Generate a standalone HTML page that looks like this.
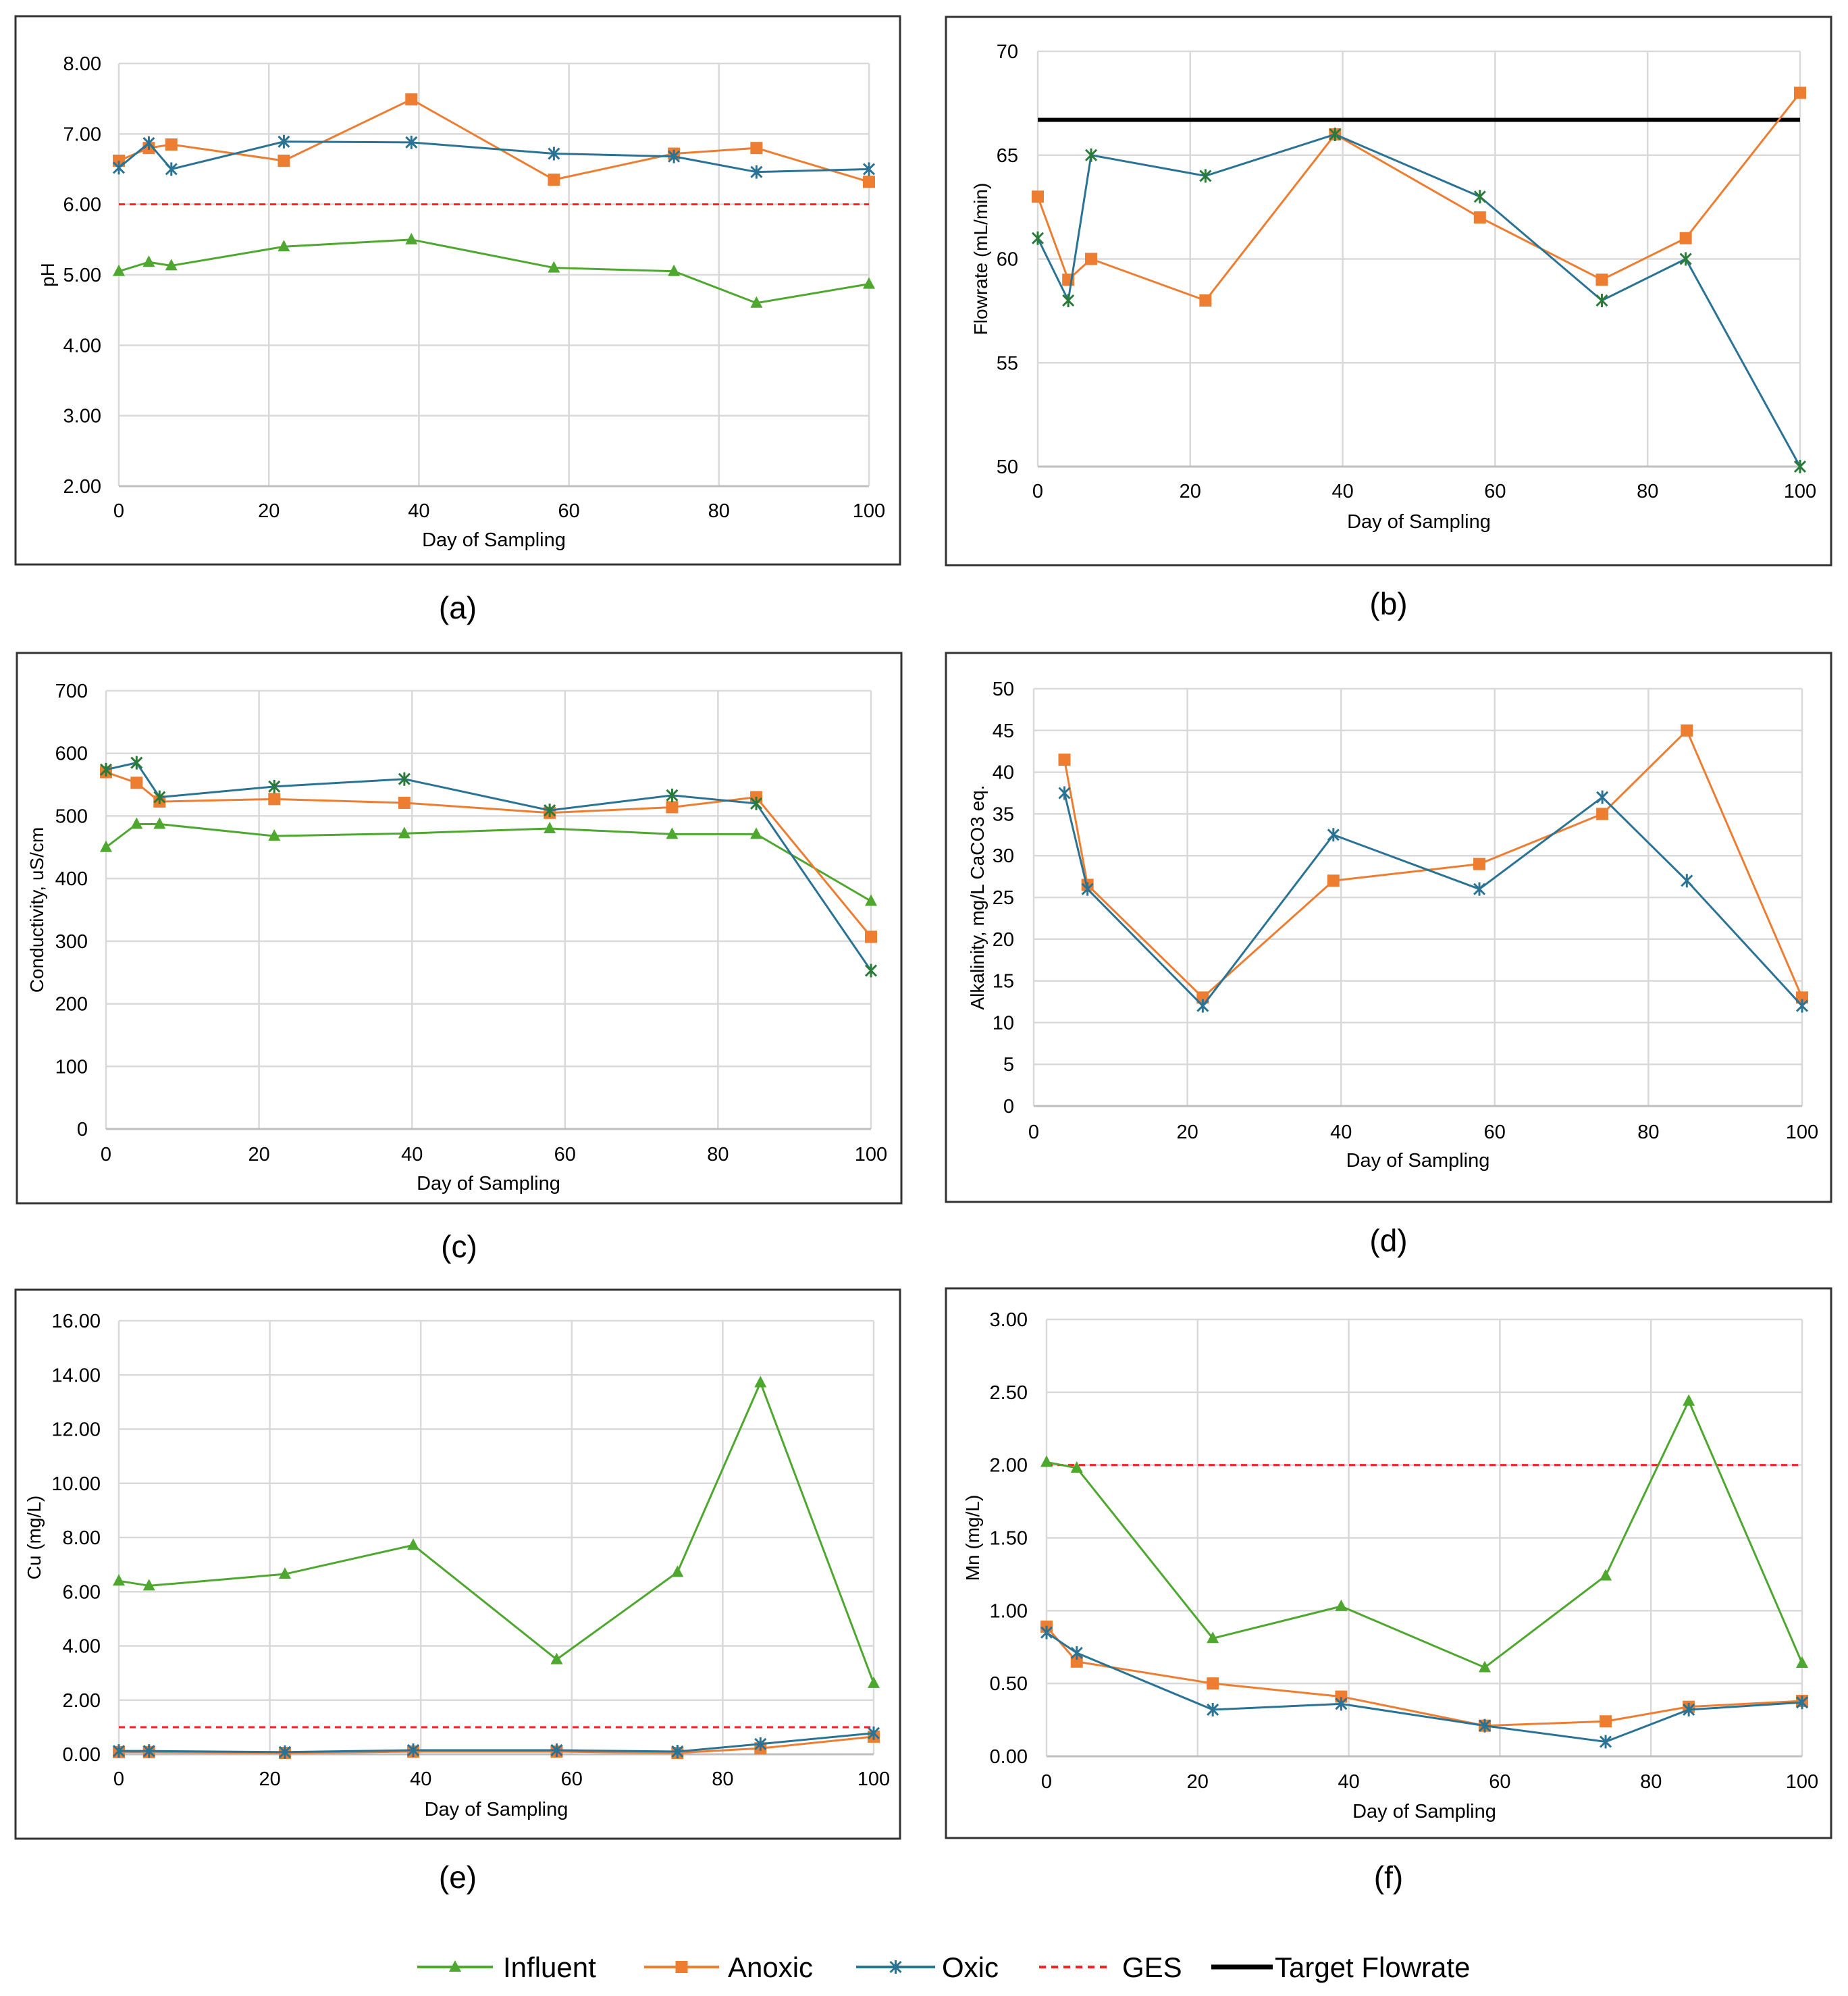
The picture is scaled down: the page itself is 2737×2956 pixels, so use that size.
<!DOCTYPE html>
<html><head><meta charset="utf-8"><style>
html,body{margin:0;padding:0;background:#fff}
svg{display:block}
text{font-family:"Liberation Sans",sans-serif;fill:#000}
</style></head><body>
<svg id="fig" width="2737" height="2956" viewBox="0 0 2737 2956" xmlns="http://www.w3.org/2000/svg"></svg>
<script>
// ---- data ----
const daysA = [0,4,7,22,39,58,74,85,100];
const phInfluent = [5.05,5.18,5.13,5.40,5.50,5.10,5.05,4.60,4.87];
const phAnoxic = [6.62,6.80,6.85,6.62,7.49,6.35,6.72,6.80,6.32];
const phOxic = [6.52,6.87,6.50,6.89,6.88,6.72,6.68,6.46,6.50];
const phGES = 6;
const phTicks = [2,3,4,5,6,7,8];

const flowAnoxic = [63,59,60,58,66,62,59,61,68];
const flowOxic = [61,58,65,64,66,63,58,60,50];
const flowTarget = 66.7;
const flowTicks = [50,55,60,65,70];

const condInfluent = [450,487,487,468,472,480,471,471,364];
const condAnoxic = [570,553,523,527,521,505,514,530,307];
const condOxic = [574,585,530,547,559,509,533,520,253];
const condTicks = [0,100,200,300,400,500,600,700];

const daysD = [4,7,22,39,58,74,85,100];
const alkAnoxic = [41.5,26.5,13,27,29,35,45,13];
const alkOxic = [37.5,26,12,32.5,26,37,27,12];
const alkTicks = [0,5,10,15,20,25,30,35,40,45,50];

const daysE = [0,4,22,39,58,74,85,100];
const cuInfluent = [6.4,6.22,6.65,7.72,3.5,6.72,13.72,2.62];
const cuAnoxic = [0.08,0.08,0.05,0.1,0.1,0.05,0.22,0.65];
const cuOxic = [0.12,0.12,0.08,0.15,0.15,0.1,0.38,0.78];
const cuGES = 1;
const cuTicks = [0,2,4,6,8,10,12,14,16];

const mnInfluent = [2.02,1.98,0.81,1.03,0.61,1.24,2.44,0.64];
const mnAnoxic = [0.89,0.65,0.50,0.41,0.21,0.24,0.34,0.38];
const mnOxic = [0.85,0.71,0.32,0.36,0.21,0.10,0.32,0.37];
const mnGES = 2;
const mnTicks = [0,0.5,1,1.5,2,2.5,3];

const xTicks = [0,20,40,60,80,100];

// ---- drawing ----
const NS = "http://www.w3.org/2000/svg";
const svg = document.getElementById('fig');
const C = {inf:'#4ea72e', anx:'#ed7d31', oxi:'#2a7394', ges:'#ff2020', grid:'#d9d9d9'};
function el(tag, attrs, parent){
  const e = document.createElementNS(NS, tag);
  for (const k in attrs) e.setAttribute(k, attrs[k]);
  (parent||svg).appendChild(e);
  return e;
}
function txt(s, attrs, parent){ const t = el('text', attrs, parent); t.textContent = s; return t; }

function marker(g, kind, x, y, color, name){
  let m;
  if (kind==='tri'){
    m = el('path',{d:`M${x} ${y-10}L${x+9} ${y+7}L${x-9} ${y+7}Z`, fill:color}, g);
  } else if (kind==='sq'){
    m = el('rect',{x:x-9,y:y-9,width:18,height:18,fill:color}, g);
  } else {
    m = el('path',{d:`M${x-8} ${y-8}L${x+8} ${y+8}M${x+8} ${y-8}L${x-8} ${y+8}M${x} ${y-10}L${x} ${y+10}`, stroke:color,'stroke-width':3,fill:'none'}, g);
  }
  
  
}

function panel(P){
  const g = el('g',{});
  
  
  const xs = d => P.x0 + (d-0)/100*(P.x1-P.x0);
  const ys = v => P.yB + (v-P.ticks[0])/(P.ticks[P.ticks.length-1]-P.ticks[0])*(P.yT-P.yB);
  const box = el('rect',{x:P.bx0,y:P.by0,width:P.bx1-P.bx0,height:P.by1-P.by0,fill:'none',stroke:'#333','stroke-width':3}, g);
  
  
  P.ticks.forEach(t=>{
    const l = el('line',{x1:P.x0,x2:P.x1,y1:ys(t),y2:ys(t),stroke:C.grid,'stroke-width':2.5}, g);
    
    
    const tl = txt(P.fmt(t),{x:P.tlx,y:ys(t)+10,'text-anchor':'end','font-size':29}, g);
    
    
  });
  xTicks.forEach(t=>{
    const l = el('line',{x1:xs(t),x2:xs(t),y1:P.yT,y2:P.yB,stroke:C.grid,'stroke-width':2.5}, g);
    
    
    const tl = txt(String(t),{x:xs(t),y:P.xty,'text-anchor':'middle','font-size':29}, g);
    
    
  });
  const ax = el('line',{x1:P.x0,x2:P.x1,y1:P.yB,y2:P.yB,stroke:'#bfbfbf','stroke-width':3}, g);
  
  
  const xt = txt('Day of Sampling',{x:(P.x0+P.x1)/2,y:P.xtt,'text-anchor':'middle','font-size':29}, g);
  
  
  const yt = txt(P.ytitle,{x:0,y:0,'text-anchor':'middle','font-size':28,transform:`translate(${P.ytx},${(P.yT+P.yB)/2}) rotate(-90)`}, g);
  
  
  const cap = txt(P.cap,{x:(P.bx0+P.bx1)/2,y:P.capy+16,'text-anchor':'middle','font-size':46}, g);
  
  
  if (P.ges!==undefined){
    const l = el('line',{x1:P.x0,x2:P.x1,y1:ys(P.ges),y2:ys(P.ges),stroke:C.ges,'stroke-width':3,'stroke-dasharray':'9 7'}, g);
    
    
  }
  if (P.target!==undefined){
    const l = el('line',{x1:P.x0,x2:P.x1,y1:ys(P.target),y2:ys(P.target),stroke:'#000','stroke-width':6}, g);
    
    
  }
  P.series.forEach(s=>{
    const pts = s.vals.map((v,i)=>xs(P.days[i])+','+ys(v)).join(' ');
    const pl = el('polyline',{points:pts,fill:'none',stroke:s.color,'stroke-width':3}, g);
    
    
    s.vals.forEach((v,i)=>marker(g, s.kind, xs(P.days[i]), ys(v), s.mcolor||s.color, s.name+'-point'));
  });
}

const f2 = v => v.toFixed(2), f0 = v => String(v);

panel({name:'ph-chart',cap:'(a)',bx0:23,by0:24,bx1:1333,by1:836,x0:176,x1:1287,yT:94,yB:720,ticks:phTicks,fmt:f2,tlx:150,xty:766,xtt:809,ytx:80,capy:900,ytitle:'pH',days:daysA,ges:phGES,
  series:[{name:'influent',vals:phInfluent,color:C.inf,kind:'tri'},{name:'anoxic',vals:phAnoxic,color:C.anx,kind:'sq'},{name:'oxic',vals:phOxic,color:C.oxi,kind:'ast'}]});
panel({name:'flowrate-chart',cap:'(b)',bx0:1401,by0:25,bx1:2712,by1:837,x0:1537,x1:2666,yT:76,yB:691,ticks:flowTicks,fmt:f0,tlx:1508,xty:737,xtt:782,ytx:1462,capy:894,ytitle:'Flowrate (mL/min)',days:daysA,target:flowTarget,
  series:[{name:'anoxic',vals:flowAnoxic,color:C.anx,kind:'sq'},{name:'oxic',vals:flowOxic,color:C.oxi,mcolor:'#2a7a3a',kind:'ast'}]});
panel({name:'conductivity-chart',cap:'(c)',bx0:25,by0:967,bx1:1335,by1:1782,x0:157,x1:1290,yT:1023,yB:1672,ticks:condTicks,fmt:f0,tlx:130,xty:1719,xtt:1762,ytx:64,capy:1846,ytitle:'Conductivity, uS/cm',days:daysA,
  series:[{name:'influent',vals:condInfluent,color:C.inf,kind:'tri'},{name:'anoxic',vals:condAnoxic,color:C.anx,kind:'sq'},{name:'oxic',vals:condOxic,color:C.oxi,mcolor:'#2a7a3a',kind:'ast'}]});
panel({name:'alkalinity-chart',cap:'(d)',bx0:1401,by0:967,bx1:2712,by1:1780,x0:1531,x1:2669,yT:1020,yB:1638,ticks:alkTicks,fmt:f0,tlx:1502,xty:1686,xtt:1728,ytx:1457,capy:1837,ytitle:'Alkalinity, mg/L CaCO3 eq.',days:daysD,
  series:[{name:'anoxic',vals:alkAnoxic,color:C.anx,kind:'sq'},{name:'oxic',vals:alkOxic,color:C.oxi,kind:'ast'}]});
panel({name:'copper-chart',cap:'(e)',bx0:23,by0:1910,bx1:1333,by1:2723,x0:176,x1:1294,yT:1956,yB:2598,ticks:cuTicks,fmt:f2,tlx:149,xty:2644,xtt:2689,ytx:60,capy:2780,ytitle:'Cu (mg/L)',days:daysE,ges:cuGES,
  series:[{name:'influent',vals:cuInfluent,color:C.inf,kind:'tri'},{name:'anoxic',vals:cuAnoxic,color:C.anx,kind:'sq'},{name:'oxic',vals:cuOxic,color:C.oxi,kind:'ast'}]});
panel({name:'manganese-chart',cap:'(f)',bx0:1401,by0:1908,bx1:2712,by1:2722,x0:1550,x1:2669,yT:1954,yB:2601,ticks:mnTicks,fmt:f2,tlx:1522,xty:2648,xtt:2692,ytx:1450,capy:2780,ytitle:'Mn (mg/L)',days:daysE,ges:mnGES,
  series:[{name:'influent',vals:mnInfluent,color:C.inf,kind:'tri'},{name:'anoxic',vals:mnAnoxic,color:C.anx,kind:'sq'},{name:'oxic',vals:mnOxic,color:C.oxi,kind:'ast'}]});

// legend
const lg = el('g',{});


const LY = 2913;
const legendItems = [
  {label:'Influent',x1:618,x2:730,tx:745,color:C.inf,kind:'tri'},
  {label:'Anoxic',x1:954,x2:1065,tx:1078,color:C.anx,kind:'sq'},
  {label:'Oxic',x1:1268,x2:1385,tx:1395,color:C.oxi,kind:'ast'},
  {label:'GES',x1:1539,x2:1645,tx:1662,color:C.ges,kind:'dash'},
  {label:'Target Flowrate',x1:1794,x2:1885,tx:1888,color:'#000',kind:'thick'}
];
legendItems.forEach(it=>{
  const g = el('g',{}, lg);
  
  
  const attrs = {x1:it.x1,x2:it.x2,y1:LY,y2:LY,stroke:it.color,'stroke-width':it.kind==='thick'?7:4};
  if (it.kind==='dash') attrs['stroke-dasharray']='10 8';
  el('line',attrs,g);
  if (['tri','sq','ast'].includes(it.kind)) marker(g,it.kind,(it.x1+it.x2)/2,LY,it.color,'legend-marker');
  const t = txt(it.label,{x:it.tx,y:LY+15,'font-size':42},g);
  
  
});
</script>
</body></html>
